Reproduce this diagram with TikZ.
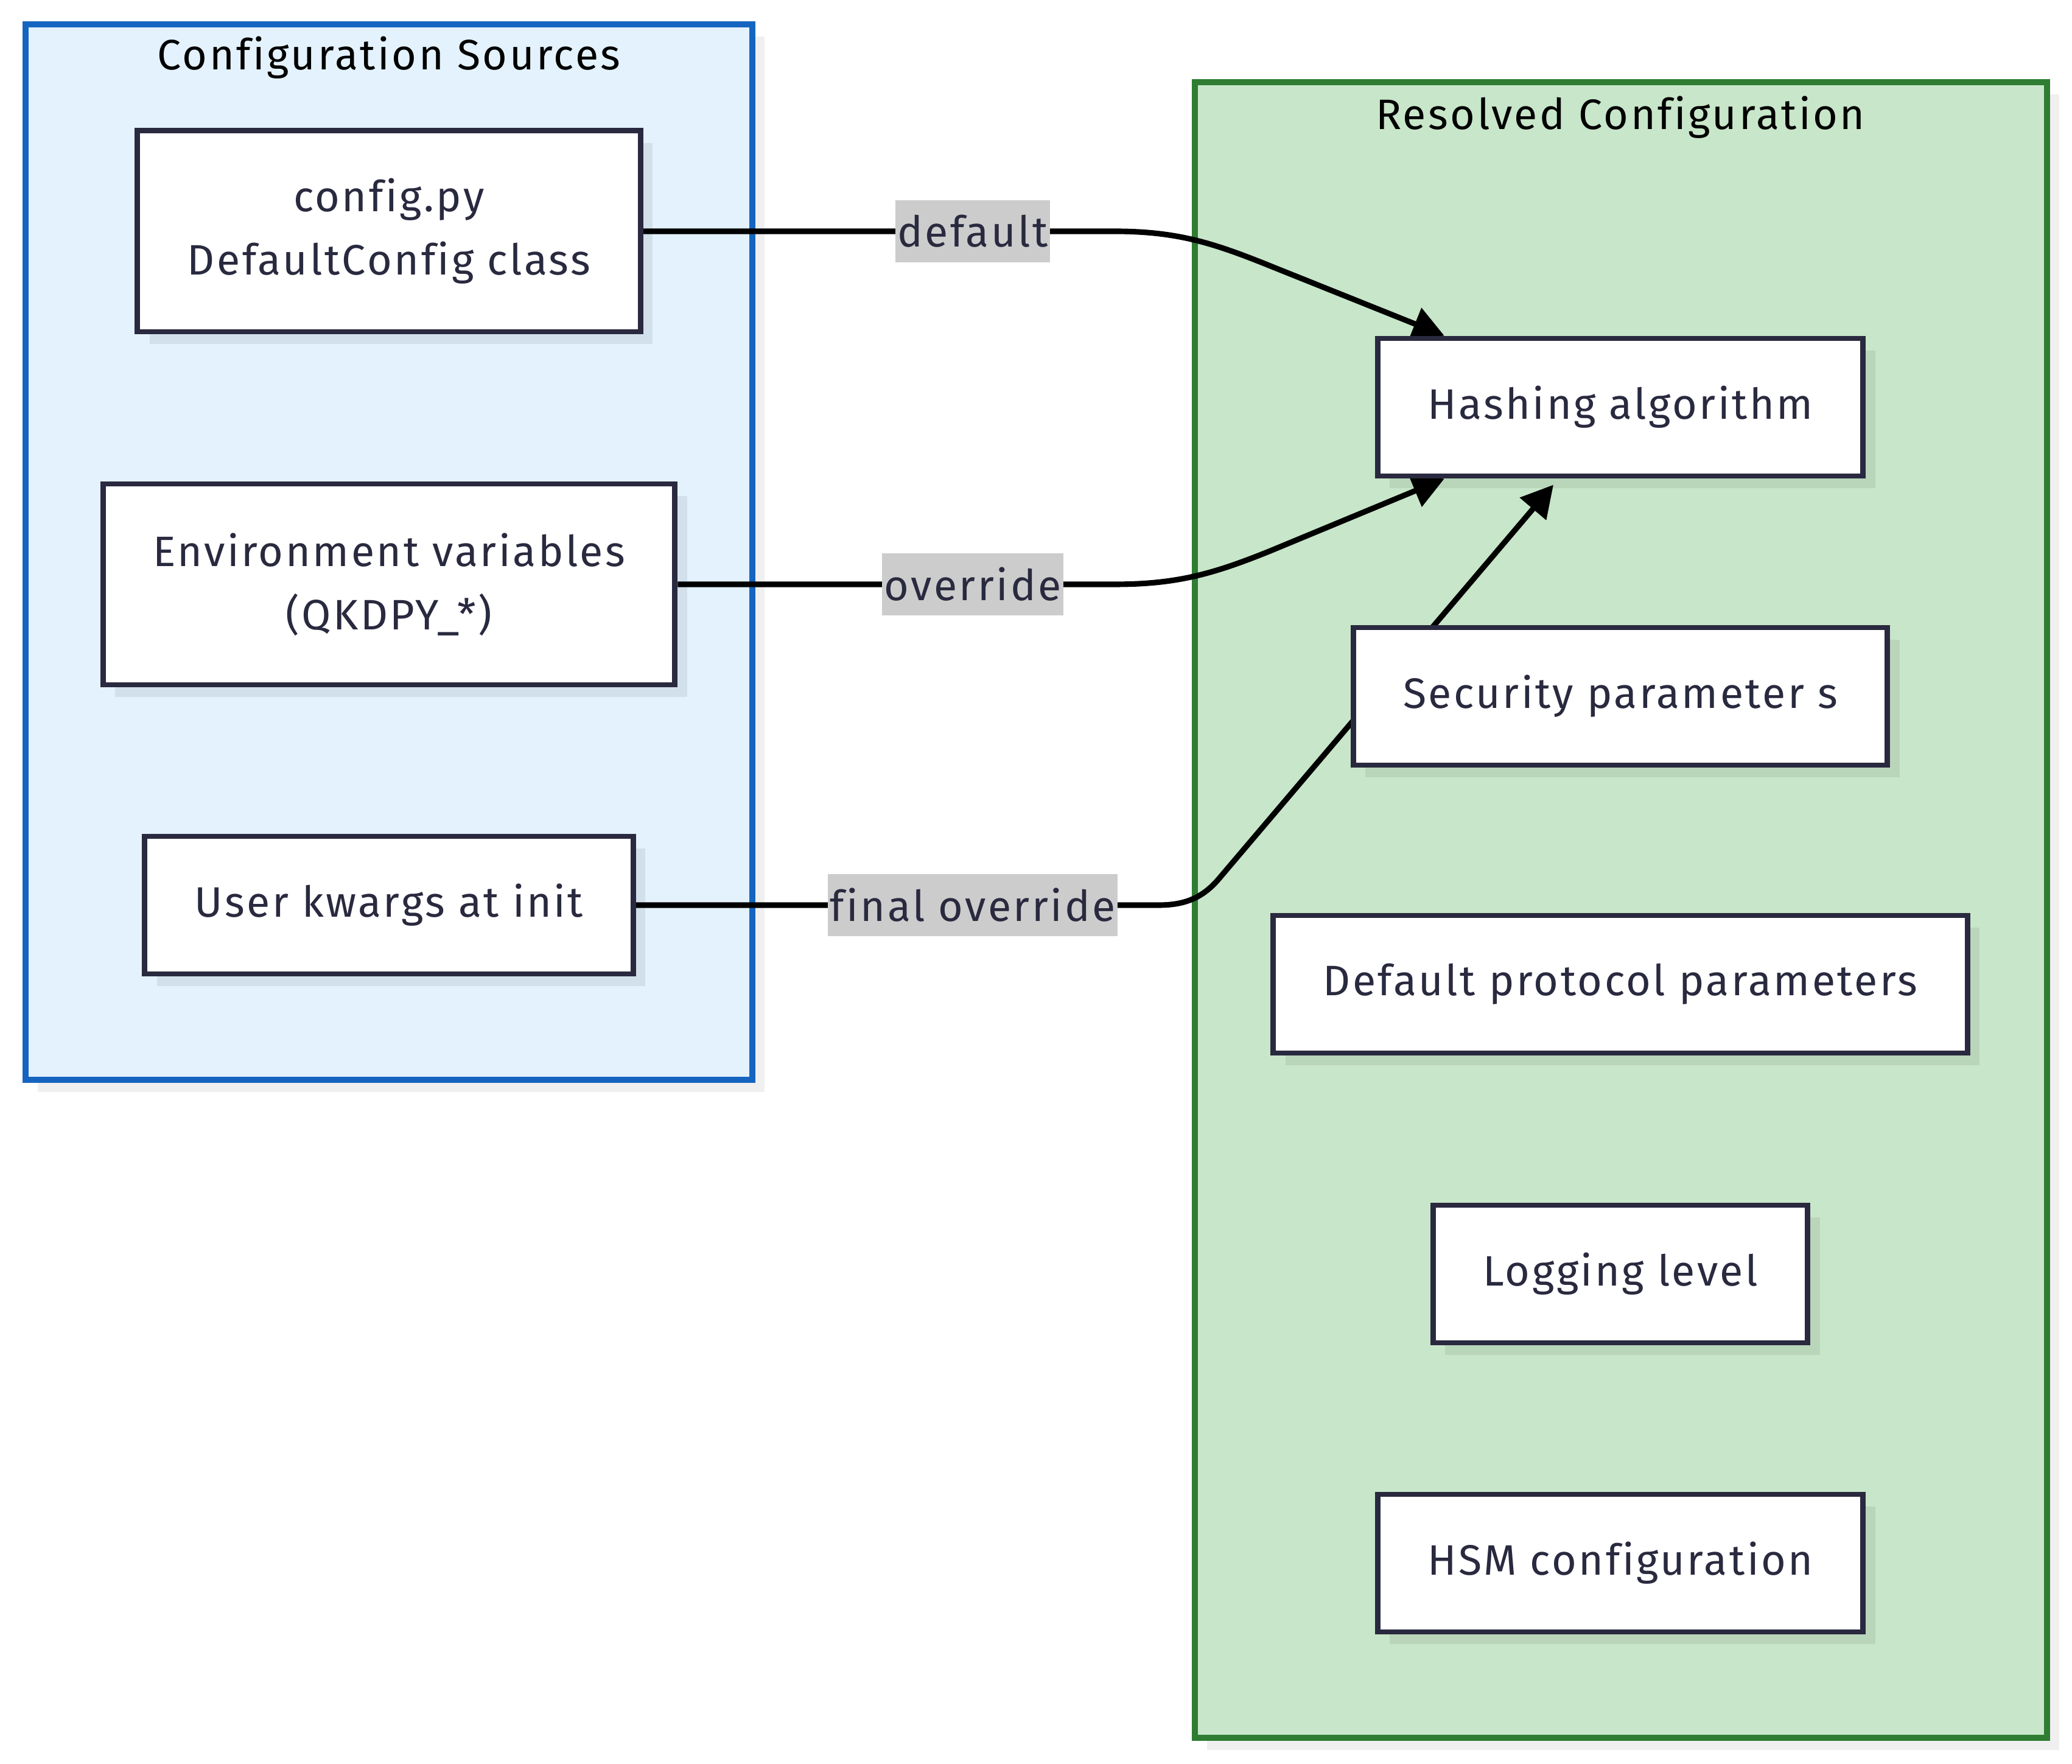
\documentclass[tikz,border=0pt]{standalone}
\usepackage{fontspec}
\setmainfont{Fira Sans}[LetterSpace=5, Ligatures=NoCommon]
\usetikzlibrary{arrows.meta,shadows}
\definecolor{srcborder}{HTML}{1565C0}
\definecolor{srcfill}{HTML}{E3F2FD}
\definecolor{resborder}{HTML}{2E7D32}
\definecolor{resfill}{HTML}{C8E6C9}
\definecolor{boxink}{HTML}{29293F}
\definecolor{lblgray}{HTML}{CCCCCC}
\pgfdeclarelayer{background}
\pgfdeclarelayer{edges}
\pgfsetlayers{background,edges,main}
\tikzset{
  cluster/.style={line width=2.85pt,
    drop shadow={shadow xshift=0.2cm, shadow yshift=-0.2cm, fill=black, opacity=0.06}},
  cfgbox/.style={draw=boxink, text=boxink, fill=white, line width=2.55pt,
    inner xsep=0.82cm, minimum height=2.26cm, align=center,
    drop shadow={shadow xshift=0.2cm, shadow yshift=-0.2cm, fill=black, opacity=0.07}},
  edgelbl/.style={fill=lblgray, text=boxink, inner xsep=1pt, inner ysep=0pt, minimum height=1.02cm},
  flow/.style={line width=2.6pt, -{Triangle[length=0.52cm, width=0.55cm]}},
  clustertitle/.style={anchor=base, text=black}
}

\begin{document}
\begin{tikzpicture}[every node/.style={font=\fontsize{19.9pt}{29.5pt}\selectfont}]
  \useasboundingbox (0,0) rectangle (34.04,28.97);

  % subgraphs
  \begin{pgfonlayer}{background}
    \draw[cluster, draw=srcborder, fill=srcfill] (0.42,11.23) rectangle (12.36,28.57);
    \draw[cluster, draw=resborder, fill=resfill] (19.63,0.42) rectangle (33.63,27.62);
    \node[clustertitle] at (6.39,27.82) {Configuration Sources};
    \node[clustertitle] at (26.62,26.84) {Resolved Configuration};
  \end{pgfonlayer}

  % sources
  \node[cfgbox, minimum height=3.30cm] (cfgpy) at (6.39,25.17) {config.py\\DefaultConfig class};
  \node[cfgbox, minimum height=3.30cm] (envvars) at (6.39,19.37) {Environment variables\\(QKDPY\_*)};
  \node[cfgbox] (userkw) at (6.39,14.10) {User kwargs at init};

  % resolved values
  \node[cfgbox] (hashalg) at (26.62,22.28) {Hashing algorithm};
  \node[cfgbox] (secparam) at (26.62,17.53) {Security parameter s};
  \node[cfgbox] (protoparam) at (26.62,12.80) {Default protocol parameters};
  \node[cfgbox] (loglevel) at (26.62,8.04) {Logging level};
  \node[cfgbox] (hsmcfg) at (26.62,3.29) {HSM configuration};

  \begin{pgfonlayer}{edges}
    \draw[flow] (cfgpy.east) -- (15.98,25.17) node[edgelbl] {default}
      -- (18.3,25.17) to[out=0,in=158] (20.87,24.60)
      -- ([xshift=1.14cm]hashalg.north west);
    \draw[flow] (envvars.east) -- (15.98,19.37) node[edgelbl] {override}
      -- (18.3,19.37) to[out=0,in=202] (20.87,19.92)
      -- ([xshift=1.14cm]hashalg.south west);
    \draw[flow] (userkw.east) -- (15.98,14.10) node[edgelbl] {final override}
      -- (19.03,14.10) to[out=0,in=230] (20.03,14.54)
      -- ([xshift=-1.1cm,yshift=-0.1cm]hashalg.south);
  \end{pgfonlayer}

\end{tikzpicture}
\end{document}
